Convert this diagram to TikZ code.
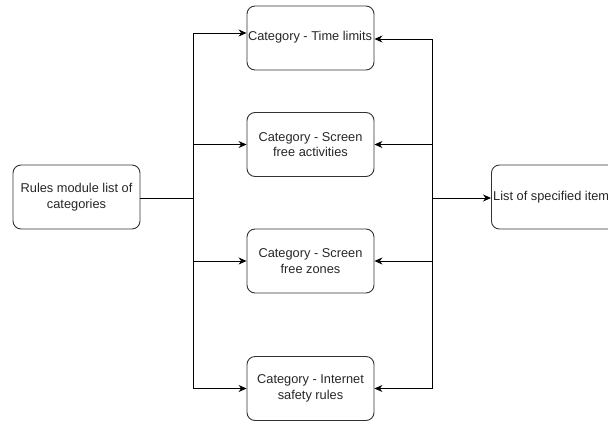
\documentclass[tikz,border=0pt]{standalone}
\usepackage{fontspec}
\setmainfont{Liberation Sans}
\usetikzlibrary{arrows.meta,calc}
\begin{document}
\begin{tikzpicture}[x=1pt,y=-1pt,
  lbl/.style={font=\fontsize{12.8}{15.5}\selectfont,text=black!85},
  box/.style={lbl,draw=black!80,line width=0.9pt,rounded corners=8pt,minimum width=127pt,minimum height=64pt,inner sep=2pt,align=center},
  conn/.style={draw=black,line width=0.9pt},
  arr/.style={conn,-{Stealth[length=8pt,width=7pt]}}]
\useasboundingbox (0,0) rectangle (608,421);
\clip (0,0) rectangle (608,421);
\node[box] (L) at (76.5,197) {Rules module list of\\categories};
\node[box] (c1) at (310.5,38) {};
\node[lbl,inner sep=0pt] (t1) at (310,37) {Category - Time limits};
\node[box] (c2) at (310.5,144.5) {Category - Screen\\free activities};
\node[box] (c3) at (310.5,261) {Category - Screen\\free zones};
\node[box] (c4) at (310.5,388.5) {Category - Internet\\safety rules};
\node[box,minimum width=160pt,anchor=west] (R) at (491,197) {};
\node[lbl,inner sep=0pt,anchor=west] (tR) at (493,197) {List of specified item};
\coordinate (jl) at (193,198);
\coordinate (jr) at (432.5,198);
\draw[conn] (L.east |- jl) -- (jl);
\draw[arr] (jl) |- ($(c1.west)+(0,-5)$);
\draw[arr] (jl) |- (c2.west);
\draw[arr] (jl) |- (c3.west);
\draw[arr] (jl) |- (c4.west);
\draw[arr] (jr) |- ($(c1.east)+(0,1)$);
\draw[arr] (jr) |- (c2.east);
\draw[arr] (jr) |- (c3.east);
\draw[arr] (jr) |- (c4.east);
\draw[arr] (jr) -- (R.west |- jr);
\end{tikzpicture}
\end{document}
